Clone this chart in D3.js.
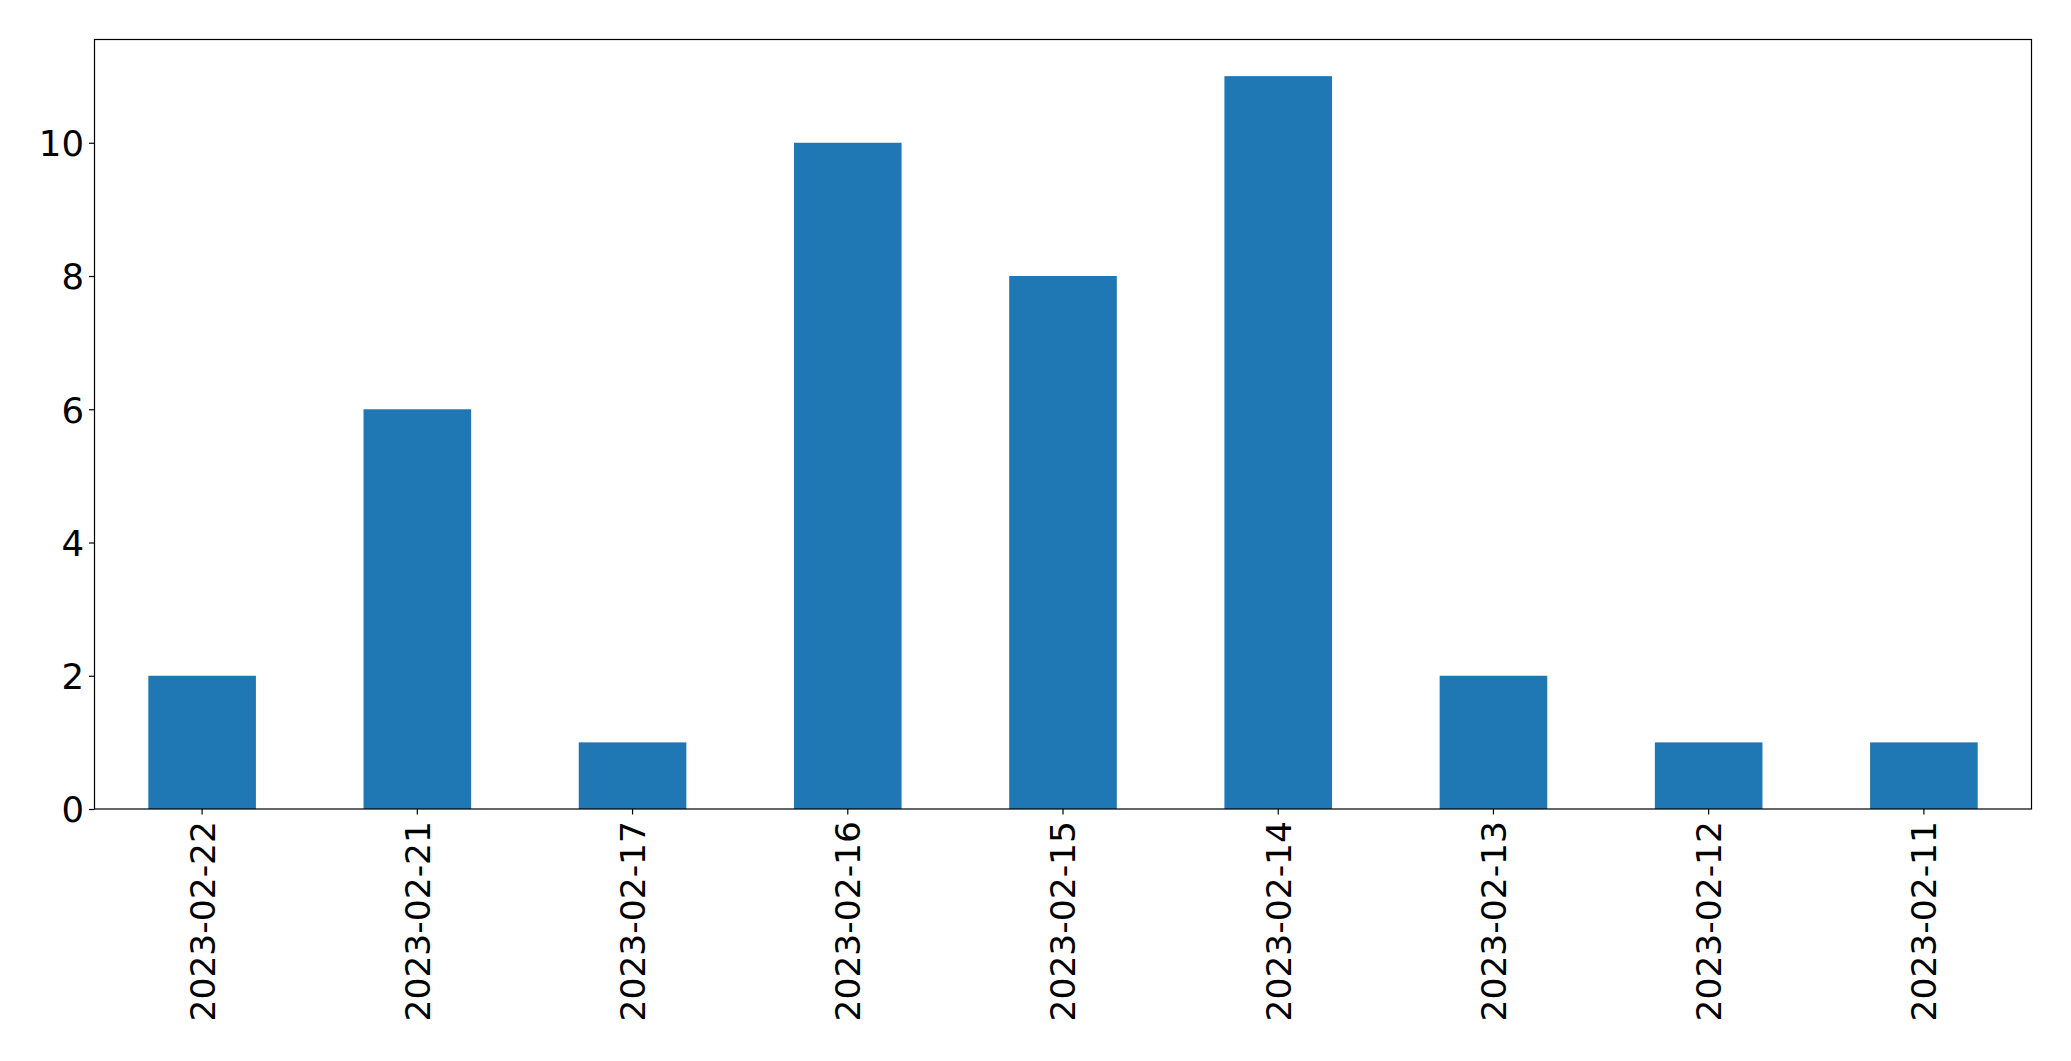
<!DOCTYPE html>
<html>
<head>
<meta charset="utf-8">
<script src="https://cdn.jsdelivr.net/npm/d3@7"></script>
<style>
  html, body { margin: 0; padding: 0; background: #fff; }
  svg { display: block; }
</style>
</head>
<body>
<script>
const categories = ["2023-02-22", "2023-02-21", "2023-02-17", "2023-02-16", "2023-02-15", "2023-02-14", "2023-02-13", "2023-02-12", "2023-02-11"];
const values = [2, 6, 1, 10, 8, 11, 2, 1, 1];
const yTicks = [0, 2, 4, 6, 8, 10];

const W = 2071, H = 1061;
const margin = { left: 94.5, right: W - 2031.5, top: 39.5, bottom: H - 809 };
const iw = W - margin.left - margin.right;
const ih = H - margin.top - margin.bottom;
const fontSize = 35.5;
const xFontSize = 34.5;
const font = "DejaVu Sans, sans-serif";

const svg = d3.select("body").append("svg").attr("width", W).attr("height", H);
const g = svg.append("g").attr("transform", `translate(${margin.left},${margin.top})`);

const x = d3.scaleBand().domain(categories).range([0, iw]).paddingInner(0.5).paddingOuter(0.25);
const yMax = d3.max(values) * 1.05;
const y = d3.scaleLinear().domain([0, yMax]).range([ih, 0]);

g.selectAll("rect.bar").data(values).join("rect")
  .attr("class", "bar")
  .attr("x", (d, i) => x(categories[i]))
  .attr("width", x.bandwidth())
  .attr("y", d => y(d))
  .attr("height", d => y(0) - y(d))
  .attr("fill", "#1f77b4");

const yAxis = g.append("g").call(d3.axisLeft(y).tickValues(yTicks).tickSize(5.5).tickPadding(5).tickFormat(d3.format("d")));
const xAxis = g.append("g").attr("transform", `translate(0,${ih})`).call(d3.axisBottom(x).tickSize(5.5).tickPadding(0));

[yAxis, xAxis].forEach(a => {
  a.select(".domain").remove();
  a.selectAll(".tick line").attr("stroke", "#000").attr("stroke-width", 1.2);
  a.selectAll("text").attr("font-family", font).attr("font-size", fontSize).attr("fill", "#000");
});

yAxis.selectAll("text").attr("dy", "0.36em");

xAxis.selectAll(".tick text")
  .attr("font-size", xFontSize)
  .attr("transform", "rotate(-90)")
  .attr("text-anchor", "end")
  .attr("x", -12)
  .attr("y", 0)
  .attr("dy", "0.36em");

g.append("rect")
  .attr("x", 0).attr("y", 0).attr("width", iw).attr("height", ih)
  .attr("fill", "none").attr("stroke", "#000").attr("stroke-width", 1.2);
</script>
</body>
</html>
